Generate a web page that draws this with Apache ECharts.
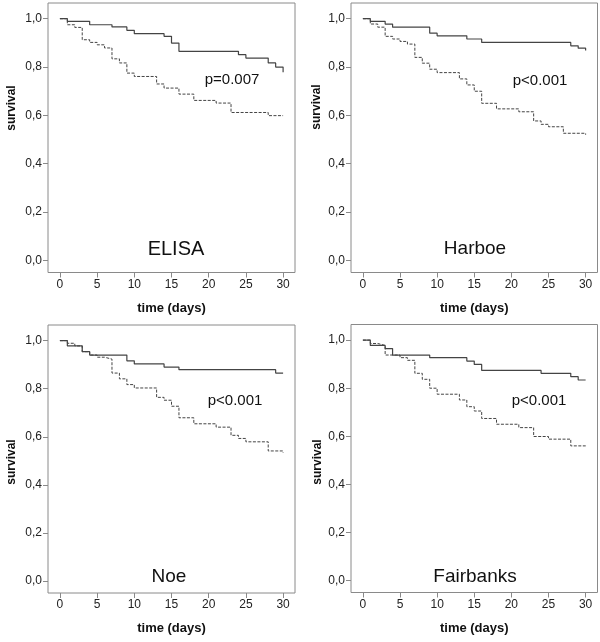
<!DOCTYPE html>
<html>
<head>
<meta charset="utf-8">
<script src="https://cdn.jsdelivr.net/npm/echarts@6/dist/echarts.min.js"></script>
<style>
html,body{margin:0;padding:0;background:#fff;}
#chart{width:600px;height:642px;}
</style>
</head>
<body>
<div id="chart"></div>
<script>
// ---- data ----
const xTicks = [0, 5, 10, 15, 20, 25, 30];
const yTicks = [0, 0.2, 0.4, 0.6, 0.8, 1.0];
const panelNames = ['ELISA', 'Harboe', 'Noe', 'Fairbanks'];
const pValues = ['p=0.007', 'p<0.001', 'p<0.001', 'p<0.001'];

// ELISA
const elisaSolidT = [0, 1, 4, 7, 9, 10, 14, 15, 16, 24, 25, 28, 29, 30];
const elisaSolidS = [1, 0.989, 0.975, 0.966, 0.952, 0.938, 0.927, 0.899, 0.865, 0.851, 0.837, 0.817, 0.800, 0.779];
const elisaDashT = [0, 1, 2, 3, 4, 5, 6, 7, 8, 9, 10, 13, 14, 16, 18, 21, 23, 28, 30];
const elisaDashS = [1, 0.975, 0.964, 0.913, 0.902, 0.892, 0.879, 0.834, 0.817, 0.775, 0.761, 0.730, 0.713, 0.688, 0.662, 0.651, 0.612, 0.599, 0.599];
// Harboe
const harboeSolidT = [0, 1, 3, 4, 9, 10, 14, 16, 28, 29, 30];
const harboeSolidS = [1, 0.989, 0.978, 0.965, 0.940, 0.929, 0.916, 0.902, 0.888, 0.878, 0.868];
const harboeDashT = [0, 1, 2, 3, 4, 5, 6, 7, 8, 9, 10, 13, 14, 15, 16, 18, 21, 23, 24, 25, 27, 30];
const harboeDashS = [1, 0.978, 0.965, 0.927, 0.916, 0.906, 0.895, 0.840, 0.816, 0.791, 0.777, 0.751, 0.726, 0.700, 0.650, 0.627, 0.615, 0.577, 0.563, 0.553, 0.526, 0.520];
// Noe
const noeSolidT = [0, 1, 3, 4, 9, 10, 14, 16, 29, 30];
const noeSolidS = [1, 0.978, 0.954, 0.940, 0.916, 0.903, 0.890, 0.879, 0.865, 0.865];
const noeDashT = [0, 1, 2, 3, 4, 5, 6, 7, 8, 9, 10, 13, 14, 15, 16, 18, 21, 23, 24, 25, 28, 30];
const noeDashS = [1, 0.989, 0.978, 0.954, 0.940, 0.931, 0.923, 0.865, 0.841, 0.817, 0.803, 0.764, 0.752, 0.727, 0.679, 0.654, 0.640, 0.606, 0.593, 0.579, 0.541, 0.534];
// Fairbanks
const fairSolidT = [0, 1, 3, 4, 9, 14, 15, 16, 24, 28, 29, 30];
const fairSolidS = [1, 0.978, 0.965, 0.938, 0.927, 0.913, 0.899, 0.874, 0.862, 0.848, 0.834, 0.834];
const fairDashT = [0, 1, 2, 3, 5, 6, 7, 8, 9, 10, 13, 14, 15, 16, 18, 21, 23, 25, 28, 30];
const fairDashS = [1, 0.986, 0.978, 0.938, 0.927, 0.916, 0.862, 0.837, 0.800, 0.775, 0.751, 0.723, 0.705, 0.674, 0.650, 0.636, 0.599, 0.588, 0.560, 0.553];

const curves = [
  [elisaSolidT, elisaSolidS, elisaDashT, elisaDashS],
  [harboeSolidT, harboeSolidS, harboeDashT, harboeDashS],
  [noeSolidT, noeSolidS, noeDashT, noeDashS],
  [fairSolidT, fairSolidS, fairDashT, fairDashS]
];

// ---- layout ----
const FONT = "'Liberation Sans', Arial, sans-serif";
const boxes = [
  {left: 48, top: 3, width: 247, height: 269.5},
  {left: 351, top: 3, width: 246.5, height: 269.5},
  {left: 48, top: 325, width: 247, height: 268},
  {left: 351, top: 324.5, width: 246.5, height: 268}
];
const titlePos = [[176, 249], [475, 249], [169, 577], [475, 577]];
const titleSize = [20, 19, 19, 19];
const pPos = [[232, 80], [540, 81], [235, 401], [539, 401]];
const survPos = [[11.5, 108], [316.5, 107], [11.5, 462], [317.5, 462]];

const frameColor = '#8a8a8a';
const curveColor = '#444';

const zip = (t, s) => t.map((v, i) => [v, s[i]]);

const grid = [], xAxis = [], yAxis = [], series = [], graphic = [];
boxes.forEach((b, i) => {
  grid.push(Object.assign({show: true, borderColor: frameColor, borderWidth: 1, backgroundColor: '#fff', containLabel: false}, b));
  xAxis.push({
    type: 'value', gridIndex: i, min: -1.6, max: 31.6, position: 'bottom',
    name: 'time (days)', nameLocation: 'middle', nameGap: 29,
    nameTextStyle: {fontFamily: FONT, fontSize: 13, fontWeight: 'bold', color: '#111'},
    axisLine: {show: false, onZero: false},
    splitLine: {show: false},
    axisTick: {show: true, inside: false, length: 5, customValues: xTicks, lineStyle: {color: frameColor}},
    axisLabel: {customValues: xTicks, margin: 6, fontFamily: FONT, fontSize: 12, color: '#222'}
  });
  yAxis.push({
    type: 'value', gridIndex: i, min: -0.05, max: 1.065, position: 'left',
    axisLine: {show: false, onZero: false},
    splitLine: {show: false},
    axisTick: {show: true, inside: false, length: 5, customValues: yTicks, lineStyle: {color: frameColor}},
    axisLabel: {customValues: yTicks, margin: 6, fontFamily: FONT, fontSize: 12, color: '#222',
      formatter: v => v.toFixed(1).replace('.', ',')}
  });
  const c = curves[i];
  series.push({
    type: 'line', xAxisIndex: i, yAxisIndex: i, step: 'end', symbol: 'none', silent: true,
    data: zip(c[0], c[1]), lineStyle: {color: curveColor, width: 1.2, type: 'solid'}
  });
  series.push({
    type: 'line', xAxisIndex: i, yAxisIndex: i, step: 'end', symbol: 'none', silent: true,
    data: zip(c[2], c[3]), lineStyle: {color: curveColor, width: 1, type: [3, 1.5]}
  });
  graphic.push({type: 'text', x: titlePos[i][0], y: titlePos[i][1], z: 100,
    style: {text: panelNames[i], font: titleSize[i] + 'px ' + FONT, fill: '#111', textAlign: 'center', textVerticalAlign: 'middle'}});
  graphic.push({type: 'text', x: pPos[i][0], y: pPos[i][1], z: 100,
    style: {text: pValues[i], font: '15px ' + FONT, fill: '#111', textAlign: 'center', textVerticalAlign: 'middle'}});
  graphic.push({type: 'text', x: survPos[i][0], y: survPos[i][1], rotation: Math.PI / 2, z: 100,
    style: {text: 'survival', font: 'bold 12px ' + FONT, fill: '#111', textAlign: 'center', textVerticalAlign: 'middle'}});
});

const chart = echarts.init(document.getElementById('chart'), null, {renderer: 'canvas'});
chart.setOption({
  animation: false,
  backgroundColor: '#fff',
  grid, xAxis, yAxis, series, graphic
});
</script>
</body>
</html>
